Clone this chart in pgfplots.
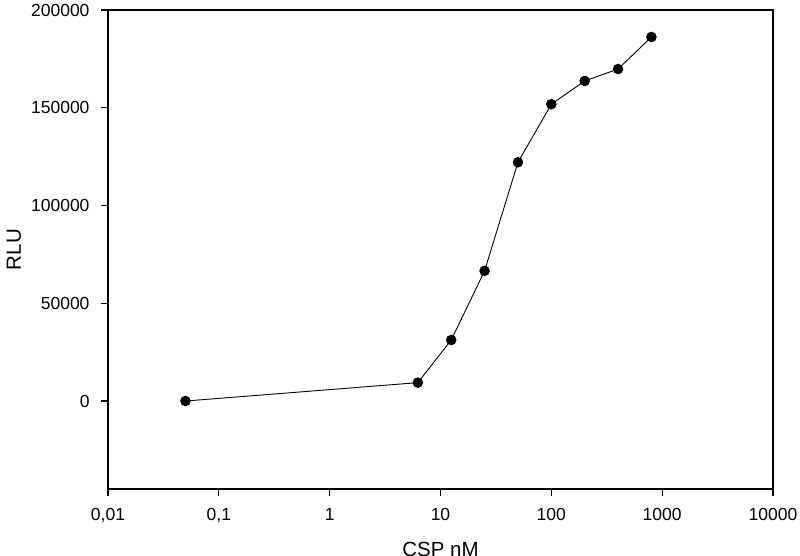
\documentclass[border=0pt]{standalone}
\usepackage{fontspec}
\setmainfont{Liberation Sans}
\usepackage{pgfplots}
\pgfplotsset{compat=1.18}

\begin{document}
\begin{tikzpicture}
\begin{axis}[
 scale only axis,
 width=665pt,
 height=479pt,
 xmode=log,
 xmin=0.01, xmax=10000,
 ymin=-45000, ymax=200000,
 xtick={0.01,0.1,1,10,100,1000,10000},
 xticklabels={{0,01},{0,1},1,10,100,1000,10000},
 ytick={0,50000,100000,150000,200000},
 yticklabels={0,50000,100000,150000,200000},
 xminorticks=false,
 tick align=outside,
 major tick length=7pt,
 xtick pos=bottom,
 ytick pos=left,
 axis line style={line width=1.2pt},
 every tick/.style={black,line width=1.2pt},
 tick label style={font=\fontsize{17.5}{20}\selectfont},
 xticklabel style={yshift=-9pt},
 yticklabel style={xshift=-8pt},
 label style={font=\fontsize{20.5}{24}\selectfont},
 xlabel={CSP nM},
 ylabel={RLU},
 xlabel style={yshift=-12.5pt},
 ylabel style={yshift=3pt},
]
\addplot[black, line width=0.9pt, mark=*, mark size=4.8pt] coordinates {
 (0.05,0)(6.25,9400)(12.5,31200)(25,66600)(50,122100)
 (100,151800)(200,163700)(400,169800)(800,186200)
};
\end{axis}
\pgfresetboundingbox
\path[use as bounding box] ([xshift=-108pt,yshift=-67pt]current axis.south west) rectangle ++(800pt,556pt);
\end{tikzpicture}
\end{document}
